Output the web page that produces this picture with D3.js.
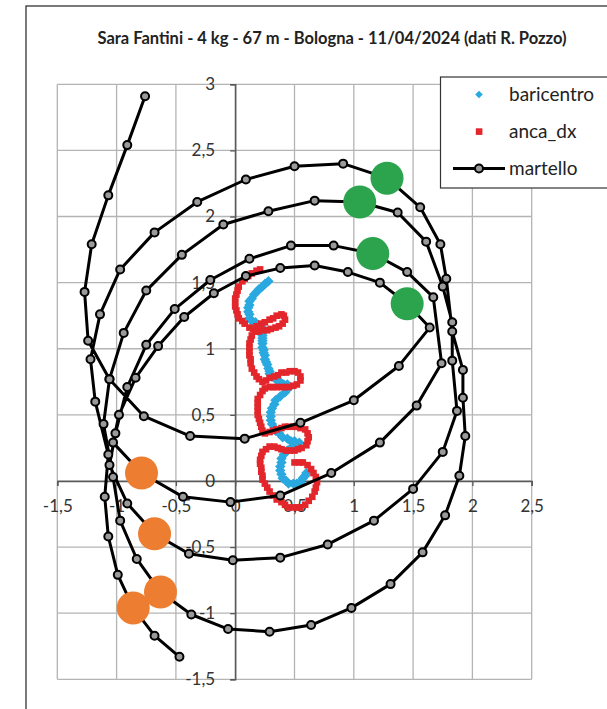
<!DOCTYPE html>
<html>
<head>
<meta charset="utf-8">
<script src="https://cdn.jsdelivr.net/npm/d3@7"></script>
<style>
  body { margin: 0; background: #fff; }
  text { font-family: Lato, "Open Sans", sans-serif; }
</style>
</head>
<body>
<svg id="chart" width="607" height="709"></svg>
<script>
// ---- data (metres) ----
const xTickValues = [-1.5, -1, -0.5, 0, 0.5, 1, 1.5, 2, 2.5];
const xTickLabels = ["-1,5", "-1", "-0,5", "0", "0,5", "1", "1,5", "2", "2,5"];
const yTickValues = [-1.5, -1, -0.5, 0, 0.5, 1, 1.5, 2, 2.5, 3];
const yTickLabels = ["-1,5", "-1", "-0,5", "0", "0,5", "1", "1,5", "2", "2,5", "3"];

// hammer head path
const martelloX = [-0.47,-0.68,-0.86,-0.99,-1.07,-1.10,
  -1.07,-1.18,-1.22,-1.14,-0.97,
  -0.68,-0.32,0.09,0.50,0.91,1.28,1.56,1.73,1.78,
  1.83,1.92,1.92,1.94,1.89,
  1.77,1.58,1.31,0.98,0.64,0.29,-0.06,-0.37,-0.63,-0.83,-0.97,
  -1.03,-1.11,-1.06,-0.94,-0.75,
  -0.45,-0.10,0.28,0.67,1.05,1.37,1.61,1.75,
  1.83,1.83,1.87,1.75,1.50,
  1.17,0.78,0.38,-0.02,-0.39,-0.68,-0.91,
  -1.06,-1.01,-0.91,-0.75,-0.51,-0.21,
  0.12,0.47,0.83,1.16,1.45,1.67,
  1.74,1.53,1.22,
  0.81,0.38,-0.04,-0.44,-0.79,
  -1.03,-0.98,-0.84,-0.65,-0.43,-0.18,
  0.09,0.38,0.67,0.95,1.22,1.45,1.64,
  1.38,1.00,0.55,0.08,-0.38,-0.77,
  -1.06,-1.24,-1.27,-1.21,-1.07,-0.91,-0.76];
const martelloY = [-1.33,-1.17,-0.96,-0.71,-0.42,-0.12,
  0.20,0.60,0.92,1.26,1.60,
  1.88,2.11,2.28,2.38,2.40,2.29,2.07,1.79,1.53,
  1.13,0.84,0.63,0.34,0.04,
  -0.26,-0.54,-0.78,-0.96,-1.09,-1.14,-1.12,-1.01,-0.84,-0.59,-0.30,
  0.03,0.43,0.77,1.12,1.44,
  1.71,1.94,2.04,2.12,2.11,2.03,1.81,1.47,
  1.20,0.91,0.53,0.22,-0.06,
  -0.30,-0.48,-0.58,-0.60,-0.55,-0.40,-0.17,
  0.12,0.36,0.71,1.03,1.30,1.52,
  1.68,1.78,1.78,1.72,1.58,1.39,
  0.89,0.57,0.29,
  0.06,-0.11,-0.16,-0.12,0.06,
  0.29,0.50,0.78,1.02,1.24,1.42,
  1.55,1.61,1.63,1.58,1.50,1.34,1.16,
  0.87,0.61,0.44,0.32,0.34,0.49,
  0.77,1.06,1.43,1.79,2.16,2.54,2.91];

// highest and lowest point of each turn
const altoX = [1.28, 1.05, 1.16, 1.45];
const altoY = [2.29, 2.11, 1.72, 1.34];
const bassoX = [-0.86, -0.63, -0.68, -0.79];
const bassoY = [-0.96, -0.84, -0.40, 0.06];

// centre of mass
const baricentroX = [0.28,0.25,0.23,0.20,0.18,0.16,0.14,0.12,0.12,0.11,0.11,0.12,0.12,0.14,0.17,0.19,0.22,0.24,
  0.24,0.23,0.23,0.23,0.23,0.23,0.24,0.24,0.25,0.25,0.26,0.27,0.28,0.29,0.29,0.31,0.34,0.36,0.39,0.41,0.44,0.46,
  0.42,0.38,0.34,0.33,0.31,0.30,0.30,0.30,0.31,0.33,0.34,0.37,0.40,0.44,0.47,0.50,0.54,
  0.50,0.47,0.44,0.41,0.39,0.39,0.38,0.38,0.39,0.40,0.43,0.45,0.49,0.52,0.55,0.57,0.59,0.60];
const baricentroY = [1.51,1.49,1.47,1.45,1.43,1.41,1.38,1.36,1.33,1.31,1.28,1.26,1.23,1.21,1.20,1.18,1.16,1.15,
  1.13,1.10,1.08,1.06,1.04,1.01,0.99,0.97,0.95,0.92,0.90,0.88,0.85,0.83,0.81,0.79,0.77,0.76,0.74,0.73,0.73,0.71,
  0.67,0.64,0.61,0.58,0.55,0.52,0.49,0.46,0.43,0.40,0.38,0.36,0.33,0.32,0.30,0.30,0.29,
  0.27,0.25,0.23,0.20,0.17,0.14,0.11,0.08,0.05,0.02,0.00,-0.02,-0.02,-0.02,-0.01,0.02,0.04,0.06];

// right hip
const ancaX = [0.21,0.18,0.14,0.11,0.08,0.06,0.03,0.02,0.01,0.00,0.00,0.00,0.01,0.02,0.03,0.06,0.08,0.12,0.15,
  0.18,0.22,0.25,0.29,0.32,0.35,0.39,0.41,0.42,0.40,0.37,0.34,0.30,0.27,0.23,0.20,0.17,
  0.14,0.13,0.12,0.12,0.12,0.12,0.13,0.13,0.14,0.16,0.18,0.20,0.23,
  0.26,0.29,0.33,0.36,0.39,0.43,0.46,0.50,0.53,0.55,0.55,0.52,0.49,0.45,0.42,0.39,0.35,0.32,0.29,0.25,0.23,0.21,
  0.19,0.19,0.19,0.19,0.19,0.20,0.21,0.22,0.23,0.25,
  0.29,0.32,0.35,0.39,0.42,0.45,0.49,0.52,0.55,0.59,0.61,0.62,0.61,0.60,0.56,0.53,0.50,0.46,0.43,0.39,0.36,0.33,
  0.29,0.26,0.23,0.22,0.21,0.21,0.22,0.22,0.23,0.23,0.25,0.27,0.29,0.32,0.35,0.39,0.42,0.45,0.49,0.52,0.55,0.59,
  0.62,0.65,0.67,0.68,0.69,0.68,0.66,0.64,0.61,0.57,0.54,0.50];
const ancaY = [1.60,1.59,1.57,1.55,1.53,1.51,1.47,1.44,1.41,1.38,1.35,1.32,1.29,1.26,1.23,1.21,1.19,1.16,1.15,
  1.17,1.19,1.20,1.22,1.23,1.25,1.26,1.25,1.22,1.19,1.17,1.16,1.15,1.14,1.14,1.13,1.13,
  1.10,1.07,1.04,1.01,0.98,0.95,0.92,0.89,0.85,0.82,0.79,0.77,0.75,
  0.76,0.78,0.79,0.80,0.82,0.82,0.83,0.83,0.82,0.79,0.76,0.73,0.72,0.71,0.71,0.71,0.71,0.71,0.71,0.70,0.68,0.65,
  0.62,0.59,0.56,0.53,0.50,0.47,0.44,0.41,0.38,0.36,
  0.37,0.38,0.39,0.40,0.41,0.41,0.41,0.41,0.40,0.39,0.36,0.33,0.30,0.27,0.25,0.24,0.23,0.23,0.23,0.24,0.25,0.26,
  0.26,0.24,0.22,0.19,0.16,0.13,0.10,0.07,0.04,0.01,-0.02,-0.05,-0.08,-0.11,-0.14,-0.16,-0.18,-0.20,-0.20,-0.20,-0.20,-0.18,
  -0.15,-0.12,-0.08,-0.05,-0.01,0.03,0.06,0.09,0.12,0.14,0.14,0.14];

// ---- layout ----
const svg = d3.select("#chart");
const x = d3.scaleLinear().domain([-1.5, 2.5]).range([57.3, 531.7]);
const y = d3.scaleLinear().domain([-1.5, 3]).range([679.3, 84.3]);

svg.append("rect").attr("x", 26).attr("y", 6).attr("width", 700).attr("height", 800)
  .attr("fill", "#fff").attr("stroke", "#222").attr("stroke-width", 1.2);

svg.append("text").attr("x", 332).attr("y", 44).attr("text-anchor", "middle")
  .attr("font-size", 16.5).attr("font-weight", "bold").attr("fill", "#222")
  .text("Sara Fantini - 4 kg - 67 m - Bologna - 11/04/2024 (dati R. Pozzo)");

// grid
const grid = svg.append("g");
grid.selectAll(".gx").data(xTickValues).join("line")
  .attr("x1", d => x(d)).attr("x2", d => x(d)).attr("y1", y(3)).attr("y2", y(-1.5))
  .attr("stroke", "#b4b4b4").attr("stroke-width", 1.3);
grid.selectAll(".gy").data(yTickValues).join("line")
  .attr("y1", d => y(d)).attr("y2", d => y(d)).attr("x1", x(-1.5)).attr("x2", x(2.5))
  .attr("stroke", "#b4b4b4").attr("stroke-width", 1.3);

// axes through the origin
const xAxis = d3.axisBottom(x).tickValues(xTickValues).tickSize(5).tickFormat((d, i) => xTickLabels[i]);
const yAxis = d3.axisLeft(y).tickValues(yTickValues).tickSize(5).tickFormat((d, i) => yTickLabels[i]);
const gx = svg.append("g").attr("transform", `translate(0,${y(0)})`).call(xAxis);
const gy = svg.append("g").attr("transform", `translate(${x(0)},0)`).call(yAxis);
[gx, gy].forEach(g => {
  g.select(".domain").attr("stroke", "#595959").attr("stroke-width", 1.5);
  g.selectAll(".tick line").attr("stroke", "#595959").attr("stroke-width", 1.3);
  g.selectAll(".tick text").attr("font-family", "Lato, 'Open Sans', sans-serif")
    .attr("font-size", 17).attr("fill", "#333");
});
gx.selectAll(".tick text").attr("dy", "1.05em").attr("y", 13);
gy.selectAll(".tick text").attr("x", -20);

// series
const plot = svg.append("g");
const diamondPath = "M0,-5.2L5.2,0L0,5.2L-5.2,0Z";
plot.append("g").selectAll("path").data(d3.range(baricentroX.length)).join("path")
  .attr("d", diamondPath)
  .attr("transform", i => `translate(${x(baricentroX[i])},${y(baricentroY[i])})`)
  .attr("fill", "#2aa9e0");

plot.append("g").selectAll("rect").data(d3.range(ancaX.length)).join("rect")
  .attr("x", i => x(ancaX[i]) - 3.3).attr("y", i => y(ancaY[i]) - 3.3)
  .attr("width", 6.6).attr("height", 6.6).attr("fill", "#e3262b");

const martello = d3.range(martelloX.length).map(i => [martelloX[i], martelloY[i]]);
plot.append("path").datum(martello)
  .attr("d", d3.line().x(d => x(d[0])).y(d => y(d[1])))
  .attr("fill", "none").attr("stroke", "#000").attr("stroke-width", 3).attr("stroke-linejoin", "round");
plot.append("g").selectAll("circle").data(martello).join("circle")
  .attr("cx", d => x(d[0])).attr("cy", d => y(d[1])).attr("r", 4)
  .attr("fill", "#9a9a9a").attr("stroke", "#000").attr("stroke-width", 2);

plot.append("g").selectAll("circle").data(d3.range(altoX.length)).join("circle")
  .attr("cx", i => x(altoX[i])).attr("cy", i => y(altoY[i])).attr("r", 16.5).attr("fill", "#2ca34d");
plot.append("g").selectAll("circle").data(d3.range(bassoX.length)).join("circle")
  .attr("cx", i => x(bassoX[i])).attr("cy", i => y(bassoY[i])).attr("r", 16.5).attr("fill", "#ed7d31");

// legend
const lg = svg.append("g");
lg.append("rect").attr("x", 440.5).attr("y", 77).attr("width", 200).attr("height", 111)
  .attr("fill", "#fff").attr("stroke", "#333").attr("stroke-width", 1.2);
lg.append("path").attr("d", "M0,-3.8L3.8,0L0,3.8L-3.8,0Z")
  .attr("transform", "translate(479,94.5)").attr("fill", "#2aa9e0");
lg.append("rect").attr("x", 475.8).attr("y", 128.3).attr("width", 6.6).attr("height", 6.6).attr("fill", "#e3262b");
lg.append("line").attr("x1", 453).attr("x2", 505).attr("y1", 168.5).attr("y2", 168.5)
  .attr("stroke", "#000").attr("stroke-width", 3);
lg.append("circle").attr("cx", 479).attr("cy", 168.5).attr("r", 4)
  .attr("fill", "#9a9a9a").attr("stroke", "#000").attr("stroke-width", 2);
const legendNames = ["baricentro", "anca_dx", "martello"];
lg.selectAll("text.name").data(legendNames).join("text")
  .attr("x", 509).attr("y", (d, i) => 101 + i * 37)
  .attr("font-size", 19).attr("fill", "#222").text(d => d);
</script>
</body>
</html>
